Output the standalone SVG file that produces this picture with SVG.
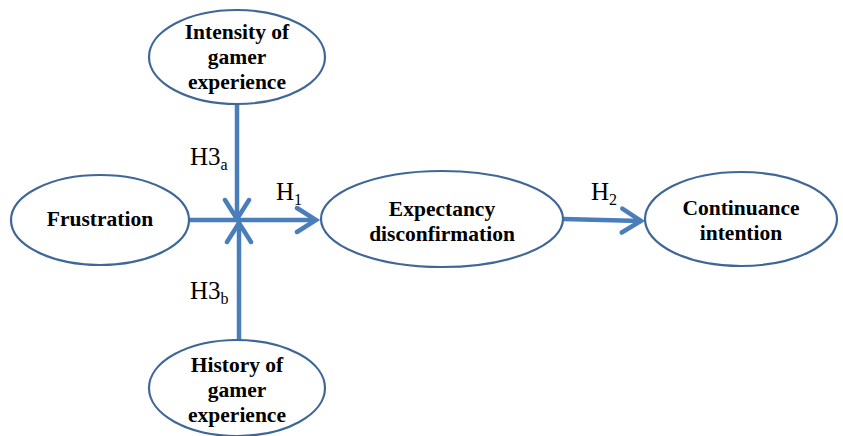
<svg xmlns="http://www.w3.org/2000/svg" width="843" height="436" viewBox="0 0 843 436">
<style>
.node ellipse{fill:#fff;stroke:#3e6797;stroke-width:2.2}
.node text{font-family:'Liberation Serif','Times New Roman',serif;font-weight:bold;font-size:21.5px;text-anchor:middle;fill:#000}
.conn line{stroke:#4a7ebb;stroke-width:4.5;fill:none}
.lbl{font-family:'Liberation Serif','Times New Roman',serif;font-size:25px;fill:#000}
.sub{font-size:16px}
</style>
<defs>
<marker id="arr" markerUnits="userSpaceOnUse" markerWidth="34" markerHeight="34" refX="23" refY="15" orient="auto" viewBox="0 0 34 34">
<path d="M4,3 L23,15 L4,27" fill="none" stroke="#4a7ebb" stroke-width="4.5" stroke-linecap="round" stroke-linejoin="miter"/>
</marker>
</defs>
<g class="conn">
<line x1="189" y1="220" x2="316" y2="220" marker-end="url(#arr)"/>
<line x1="237" y1="104" x2="237" y2="219" marker-end="url(#arr)"/>
<line x1="239" y1="340" x2="239" y2="223" marker-end="url(#arr)"/>
<line x1="563" y1="219" x2="641" y2="221" marker-end="url(#arr)"/>
</g>
<g id="intensity" class="node">
<ellipse cx="237" cy="57" rx="88" ry="47"/>
<text x="237" y="39">Intensity of</text>
<text x="237" y="64">gamer</text>
<text x="237" y="89">experience</text>
</g>
<g id="frustration" class="node">
<ellipse cx="100" cy="220" rx="89" ry="45"/>
<text x="100" y="226">Frustration</text>
</g>
<g id="expectancy" class="node">
<ellipse cx="442" cy="219" rx="121" ry="48"/>
<text x="442" y="216">Expectancy</text>
<text x="442" y="241">disconfirmation</text>
</g>
<g id="continuance" class="node">
<ellipse cx="741" cy="219" rx="96" ry="47"/>
<text x="741" y="215">Continuance</text>
<text x="741" y="240">intention</text>
</g>
<g id="history" class="node">
<ellipse cx="237" cy="388" rx="88" ry="48"/>
<text x="237" y="372">History of</text>
<text x="237" y="397">gamer</text>
<text x="237" y="422">experience</text>
</g>
<g id="labels">
<text class="lbl" x="190" y="165">H3<tspan class="sub" dy="5">a</tspan></text>
<text class="lbl" x="276" y="200">H<tspan class="sub" dy="5">1</tspan></text>
<text class="lbl" x="591" y="200">H<tspan class="sub" dy="5">2</tspan></text>
<text class="lbl" x="190" y="299">H3<tspan class="sub" dy="5">b</tspan></text>
</g>
</svg>
